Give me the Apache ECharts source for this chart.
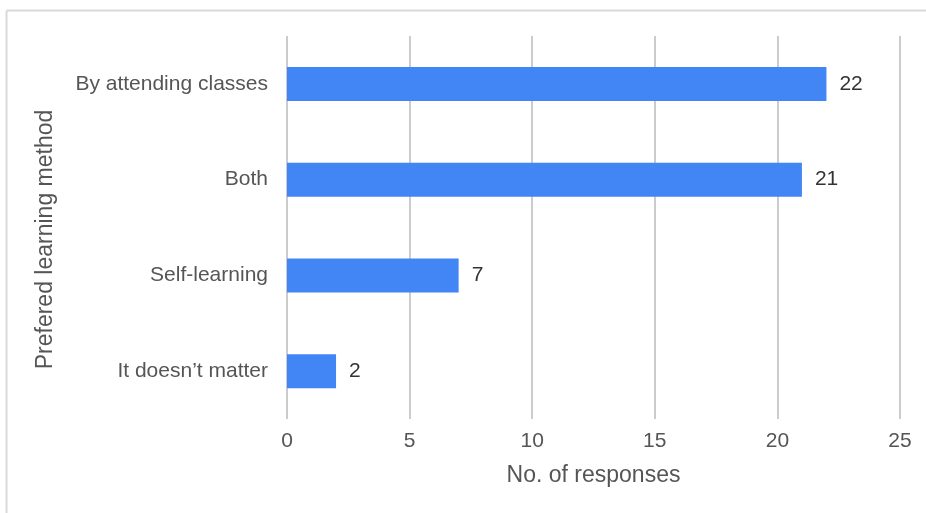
<!DOCTYPE html>
<html>
<head>
<meta charset="utf-8">
<script src="https://cdn.jsdelivr.net/npm/echarts@6/dist/echarts.min.js"></script>
<style>
  html, body { margin: 0; padding: 0; background: #fff; }
  #chart { width: 926px; height: 513px; }
</style>
</head>
<body>
<div id="chart"></div>
<script>
// Preferred learning method survey
const categories = ['It doesn\u2019t matter', 'Self-learning', 'Both', 'By attending classes'];
const responses = [2, 7, 21, 22];
const xTicks = { min: 0, max: 25, interval: 5 };

const chart = echarts.init(document.getElementById('chart'));
const font = '"Liberation Sans", Arial, sans-serif';

chart.setOption({
  animation: false,
  backgroundColor: '#ffffff',
  graphic: [
    // sheet frame along the top and left edges
    { type: 'line', shape: { x1: 6.5, y1: 10.5, x2: 926, y2: 10.5 }, style: { stroke: '#d9d9d9', lineWidth: 2 } },
    { type: 'line', shape: { x1: 6.5, y1: 10.5, x2: 6.5, y2: 513 }, style: { stroke: '#d9d9d9', lineWidth: 2 } }
  ],
  grid: { left: 287, right: 26, top: 36, bottom: 94, containLabel: false },
  xAxis: {
    type: 'value',
    min: xTicks.min,
    max: xTicks.max,
    interval: xTicks.interval,
    name: 'No. of responses',
    nameLocation: 'middle',
    nameGap: 45,
    nameTextStyle: { color: '#555', fontSize: 23, fontFamily: font },
    axisLine: { show: false },
    axisTick: { show: false },
    axisLabel: { color: '#555', fontSize: 21, fontFamily: font, margin: 12 },
    splitLine: { show: true, lineStyle: { color: '#cccccc', width: 2 } }
  },
  yAxis: {
    type: 'category',
    data: categories,
    name: 'Prefered learning method',
    nameLocation: 'middle',
    nameGap: 230,
    nameTextStyle: { color: '#555', fontSize: 23, fontFamily: font, padding: [0, 24, 0, 0] },
    axisLine: { show: false },
    axisTick: { show: false },
    axisLabel: { color: '#555', fontSize: 21, fontFamily: font, margin: 19 },
    splitLine: { show: false }
  },
  series: [{
    type: 'bar',
    data: responses,
    barWidth: 34,
    itemStyle: { color: '#4285f4' },
    label: {
      show: true,
      position: 'right',
      distance: 13,
      color: '#333',
      fontSize: 21,
      fontFamily: font
    }
  }]
});
</script>
</body>
</html>
